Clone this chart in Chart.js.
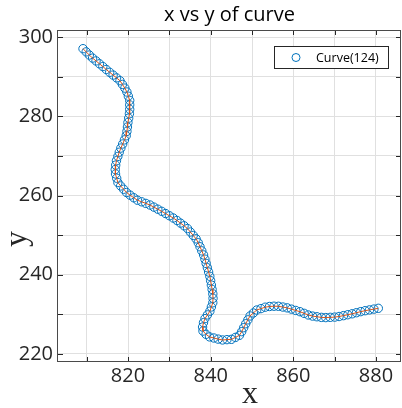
<!DOCTYPE html>
<html>
<head>
<meta charset="utf-8">
<script src="https://cdn.jsdelivr.net/npm/chart.js@4.4.1/dist/chart.umd.min.js"></script>
<style>
  html, body { margin: 0; padding: 0; background: #ffffff; }
  #wrap { width: 402px; height: 408px; position: relative; }
</style>
</head>
<body>
<div id="wrap"><canvas id="c" width="402" height="408"></canvas></div>
<script>
// ---- data ----
const chartTitle = 'x vs y of curve';
const xAxisLabel = 'x';
const yAxisLabel = 'y';
const seriesName = 'Curve(124)';
const xTickLabels = [820, 840, 860, 880];
const yTickLabels = [220, 240, 260, 280, 300];

const xValues = [
  809.11, 809.87, 810.64, 811.43, 812.26, 813.09, 813.91, 814.73, 815.56, 816.39,
  817.23, 818.05, 818.64, 819.24, 819.73, 820.08, 820.41, 820.41, 820.41, 820.34,
  820.16, 819.98, 819.86, 819.74, 819.56, 819.14, 818.71, 818.27, 817.88, 817.54,
  817.20, 817.02, 816.91, 816.98, 817.26, 817.55, 818.22, 818.94, 819.66, 820.51,
  821.40, 822.29, 823.30, 824.30, 825.31, 826.26, 827.21, 828.15, 829.09, 830.02,
  830.94, 831.84, 832.70, 833.56, 834.40, 835.09, 835.78, 836.47, 836.99, 837.42,
  837.85, 838.28, 838.61, 838.90, 839.20, 839.50, 839.79, 839.99, 840.17, 840.35,
  840.52, 840.57, 840.51, 840.17, 839.81, 839.22, 838.62, 838.26, 838.04, 838.14,
  838.88, 839.72, 840.77, 841.81, 842.86, 843.94, 845.02, 845.99, 846.95, 847.51,
  847.99, 848.48, 849.00, 849.53, 850.33, 851.14, 852.16, 853.18, 854.24, 855.32,
  856.39, 857.46, 858.52, 859.55, 860.58, 861.62, 862.61, 863.61, 864.65, 865.71,
  866.78, 867.85, 868.93, 870.01, 871.07, 872.13, 873.18, 874.23, 875.27, 876.31,
  877.37, 878.43, 879.50, 880.56
];
const yValues = [
  297.05, 296.25, 295.45, 294.68, 293.97, 293.25, 292.54, 291.81, 291.09, 290.39,
  289.69, 288.97, 288.04, 287.10, 286.12, 285.06, 284.00, 282.87, 281.75, 280.63,
  279.52, 278.41, 277.29, 276.18, 275.08, 274.04, 273.00, 271.97, 270.92, 269.85,
  268.78, 267.67, 266.55, 265.44, 264.36, 263.27, 262.41, 261.58, 260.75, 260.08,
  259.43, 258.81, 258.41, 258.01, 257.60, 257.07, 256.54, 256.01, 255.45, 254.89,
  254.32, 253.70, 253.03, 252.36, 251.65, 250.78, 249.92, 249.06, 248.08, 247.06,
  246.03, 245.00, 243.93, 242.85, 241.77, 240.69, 239.61, 238.50, 237.39, 236.28,
  235.17, 234.05, 232.93, 231.87, 230.81, 229.87, 228.94, 227.90, 226.80, 225.79,
  224.96, 224.32, 224.04, 223.76, 223.54, 223.62, 223.70, 224.19, 224.71, 225.64,
  226.64, 227.64, 228.62, 229.60, 230.35, 231.10, 231.45, 231.81, 231.99, 232.06,
  232.04, 231.85, 231.64, 231.32, 230.99, 230.67, 230.26, 229.85, 229.57, 229.40,
  229.24, 229.19, 229.25, 229.31, 229.46, 229.68, 229.91, 230.15, 230.42, 230.69,
  230.93, 231.13, 231.33, 231.53
];

const points = xValues.map((x, i) => ({ x: x, y: yValues[i] }));

const BLUE = '#0072BD';
const ORANGE = '#D95319';
const AXIS = '#262626';

// box, inward ticks, axis labels and legend, drawn from the library's scales
const matlabFrame = {
  id: 'matlabFrame',
  afterDraw(chart) {
    const { ctx, chartArea: a, scales } = chart;
    const xs = scales.x, ys = scales.y;
    ctx.save();
    ctx.strokeStyle = AXIS;
    ctx.lineWidth = 1;
    ctx.beginPath();
    const tl = 5;
    xs.ticks.forEach(t => {
      const p = Math.round(xs.getPixelForValue(t.value)) + 0.5;
      ctx.moveTo(p, a.bottom); ctx.lineTo(p, a.bottom - tl);
      ctx.moveTo(p, a.top); ctx.lineTo(p, a.top + tl);
    });
    ys.ticks.forEach(t => {
      const p = Math.round(ys.getPixelForValue(t.value)) + 0.5;
      ctx.moveTo(a.left, p); ctx.lineTo(a.left + tl, p);
      ctx.moveTo(a.right, p); ctx.lineTo(a.right - tl, p);
    });
    ctx.stroke();
    // box
    ctx.strokeStyle = '#4a4a4a';
    ctx.strokeRect(a.left - 0.5, a.top + 0.5, a.right - a.left, a.bottom - a.top - 1);

    // axis labels
    ctx.fillStyle = AXIS;
    ctx.font = '32px "Liberation Serif", "DejaVu Serif", serif';
    ctx.textAlign = 'center';
    ctx.textBaseline = 'alphabetic';
    ctx.fillText(xAxisLabel, 250, 402.5);
    ctx.save();
    ctx.translate(26, 239);
    ctx.rotate(-Math.PI / 2);
    ctx.fillText(yAxisLabel, 0, 0);
    ctx.restore();

    // legend
    const lx = 274.5, ly = 46.5, lw = 114, lh = 22;
    ctx.fillStyle = '#ffffff';
    ctx.fillRect(lx, ly, lw, lh);
    ctx.strokeStyle = AXIS;
    ctx.strokeRect(lx, ly, lw, lh);
    ctx.beginPath();
    ctx.strokeStyle = BLUE;
    ctx.arc(296, 57.5, 4, 0, Math.PI * 2);
    ctx.stroke();
    ctx.fillStyle = '#000000';
    ctx.font = '12.5px "Open Sans", sans-serif';
    ctx.textAlign = 'left';
    ctx.textBaseline = 'middle';
    ctx.fillText(seriesName, 316, 58);
    ctx.restore();
  }
};

new Chart(document.getElementById('c'), {
  type: 'scatter',
  data: {
    datasets: [
      {
        label: 'line',
        data: points,
        showLine: true,
        borderColor: ORANGE,
        borderWidth: 1,
        pointRadius: 0,
        fill: false,
        tension: 0
      },
      {
        label: seriesName,
        data: points,
        showLine: false,
        pointStyle: 'circle',
        pointRadius: 4.2,
        pointBorderWidth: 1,
        pointBorderColor: BLUE,
        pointBackgroundColor: 'rgba(0,0,0,0)',
        borderColor: BLUE,
        backgroundColor: 'rgba(0,0,0,0)'
      }
    ]
  },
  options: {
    responsive: false,
    animation: false,
    devicePixelRatio: 1,
    layout: { autoPadding: false, padding: { top: 0, right: 1, bottom: 0, left: 0 } },
    plugins: {
      legend: { display: false },
      tooltip: { enabled: false },
      title: {
        display: true,
        text: chartTitle,
        fullSize: false,
        color: '#000000',
        font: { family: '"Open Sans", sans-serif', size: 20, weight: 'normal', lineHeight: 1.2 },
        padding: { top: 3.5, bottom: 2.5 }
      }
    },
    scales: {
      x: {
        type: 'linear',
        min: 803.06,
        max: 886.05,
        afterFit(scale) {
          scale.height = 46;
          scale.paddingLeft = 0;
          scale.paddingRight = 0;
        },
        grid: { color: '#e0e0e0', lineWidth: 1, drawTicks: false },
        border: { display: false },
        ticks: {
          stepSize: 10,
          includeBounds: false,
          maxRotation: 0,
          autoSkip: false,
          padding: 2,
          color: AXIS,
          font: { family: '"Open Sans", sans-serif', size: 20 },
          callback: (v) => xTickLabels.includes(v) ? String(v) : ''
        }
      },
      y: {
        type: 'linear',
        min: 217.98,
        max: 301.77,
        afterFit(scale) { scale.width = 58; scale.paddingTop = 0; scale.paddingBottom = 0; },
        grid: { color: '#e0e0e0', lineWidth: 1, drawTicks: false },
        border: { display: false },
        ticks: {
          stepSize: 10,
          includeBounds: false,
          autoSkip: false,
          padding: 5,
          color: AXIS,
          font: { family: '"Open Sans", sans-serif', size: 20 },
          callback: (v) => yTickLabels.includes(v) ? String(v) : ''
        }
      }
    }
  },
  plugins: [matlabFrame]
});
</script>
</body>
</html>
